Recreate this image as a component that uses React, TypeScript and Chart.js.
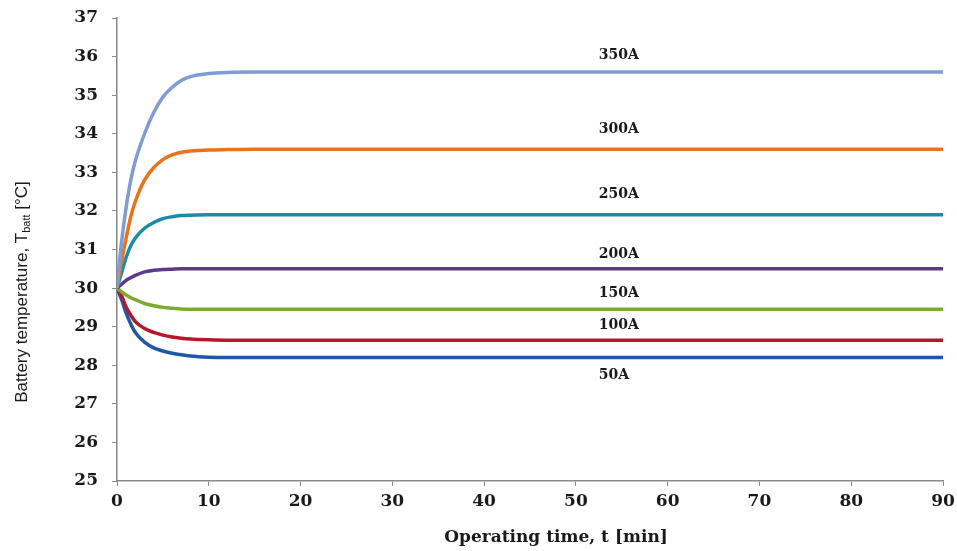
import React, { useEffect, useRef } from "react";
import { Chart, registerables } from "chart.js";

Chart.register(...registerables);

const times = [0, 0.5, 1, 1.5, 2, 3, 4, 5, 6, 7, 8, 10, 12, 15, 20, 90];
const seriesNames = ["350A", "300A", "250A", "200A", "150A", "100A", "50A"];
const t350 = [30, 31.2, 32.1, 32.8, 33.3, 34.0, 34.55, 34.95, 35.2, 35.38, 35.48, 35.56, 35.59, 35.6, 35.6, 35.6];
const t300 = [30, 30.7, 31.3, 31.85, 32.25, 32.8, 33.12, 33.33, 33.45, 33.52, 33.55, 33.58, 33.59, 33.6, 33.6, 33.6];
const t250 = [30, 30.4, 30.8, 31.1, 31.3, 31.55, 31.7, 31.8, 31.85, 31.88, 31.89, 31.9, 31.9, 31.9, 31.9, 31.9];
const t200 = [30, 30.1, 30.2, 30.27, 30.33, 30.42, 30.46, 30.48, 30.49, 30.5, 30.5, 30.5, 30.5, 30.5, 30.5, 30.5];
const t150 = [30, 29.9, 29.82, 29.75, 29.7, 29.6, 29.54, 29.5, 29.48, 29.46, 29.45, 29.45, 29.45, 29.45, 29.45, 29.45];
const t100 = [30, 29.8, 29.5, 29.3, 29.13, 28.95, 28.85, 28.78, 28.73, 28.7, 28.68, 28.66, 28.65, 28.65, 28.65, 28.65];
const t50 = [30, 29.7, 29.35, 29.07, 28.85, 28.6, 28.45, 28.37, 28.31, 28.27, 28.24, 28.21, 28.2, 28.2, 28.2, 28.2];
const seriesValues = [t350, t300, t250, t200, t150, t100, t50];
const seriesColors = ["#7f9dd2", "#e8731c", "#1b8ca8", "#5b3a8e", "#7dab2f", "#b3182a", "#1f58a6"];
// label pixel offset from the line (negative = above)
const labelOffsets = [-17, -20, -20, -14, -16, -15, 18];
const labelTime = 52.5;

const FONT = "'DejaVu Serif', 'Liberation Serif', serif";
const SANS = "'Liberation Sans', Arial, sans-serif";

const textPlugin = {
  id: "customText",
  afterDraw(chart: any) {
    const { ctx, scales } = chart;
    const xs = scales.x;
    const ys = scales.y;
    ctx.save();
    ctx.fillStyle = "#1a1a1a";
    ctx.font = `bold 14px ${FONT}`;
    ctx.textAlign = "left";
    ctx.textBaseline = "middle";
    seriesNames.forEach((name, i) => {
      const vals = seriesValues[i];
      const yv = vals[vals.length - 1];
      const px = xs.getPixelForValue(labelTime);
      const py = ys.getPixelForValue(yv) + labelOffsets[i];
      ctx.fillText(name, px, py);
    });
    // x title
    ctx.font = `bold 17px ${FONT}`;
    ctx.textAlign = "center";
    ctx.fillText("Operating time, t [min]", 556, 538);
    // y title with subscript
    ctx.translate(22, 292);
    ctx.rotate(-Math.PI / 2);
    const main = "Battery temperature, T";
    const sub = "batt";
    const tail = " [\u00B0C]";
    ctx.font = `17px ${SANS}`;
    const w1 = ctx.measureText(main).width;
    const w3 = ctx.measureText(tail).width;
    ctx.font = `11px ${SANS}`;
    const w2 = ctx.measureText(sub).width;
    let x0 = -(w1 + w2 + w3) / 2;
    ctx.textAlign = "left";
    ctx.font = `17px ${SANS}`;
    ctx.fillText(main, x0, 0);
    x0 += w1;
    ctx.font = `11px ${SANS}`;
    ctx.fillText(sub, x0, 5);
    x0 += w2;
    ctx.font = `17px ${SANS}`;
    ctx.fillText(tail, x0, 0);
    ctx.restore();
  },
};

export default function App() {
  const ref = useRef<HTMLCanvasElement | null>(null);
  useEffect(() => {
    if (!ref.current) return;
    const datasets = seriesNames.map((name, i) => ({
      label: name,
      data: times.map((t, j) => ({ x: t, y: seriesValues[i][j] })),
      borderColor: seriesColors[i],
      backgroundColor: seriesColors[i],
      borderWidth: 3.5,
      pointRadius: 0,
      cubicInterpolationMode: "monotone" as const,
      fill: false,
    }));
    const chart = new Chart(ref.current, {
      type: "line",
      data: { datasets },
      options: {
        responsive: false,
        animation: false,
        layout: { padding: { top: 18, right: 14, left: 0, bottom: 0 } },
        plugins: { legend: { display: false }, tooltip: { enabled: false } },
        scales: {
          x: {
            type: "linear",
            min: 0,
            max: 90,
            ticks: { stepSize: 10, color: "#1a1a1a", font: { family: FONT, size: 17, weight: "bold" }, padding: 5, maxRotation: 0 },
            grid: { drawOnChartArea: false, drawTicks: true, tickLength: 5, color: "#888" },
            border: { color: "#888", width: 1.5 },
            afterFit: (s: any) => { s.height = 70; s.paddingLeft = 0; s.paddingRight = 0; },
          },
          y: {
            type: "linear",
            min: 25,
            max: 37,
            ticks: { stepSize: 1, color: "#1a1a1a", font: { family: FONT, size: 17, weight: "bold" }, padding: 14 },
            grid: { drawOnChartArea: false, drawTicks: true, tickLength: 5, color: "#888" },
            border: { color: "#888", width: 1.5 },
            afterFit: (s: any) => { s.width = 117; s.paddingTop = 0; s.paddingBottom = 0; },
          },
        },
      },
      plugins: [textPlugin],
    });
    return () => chart.destroy();
  }, []);
  return (
    <div style={{ position: "fixed", left: 0, top: 0, width: 957, height: 551, background: "#fff" }}>
      <canvas ref={ref} width={957} height={551} />
    </div>
  );
}
